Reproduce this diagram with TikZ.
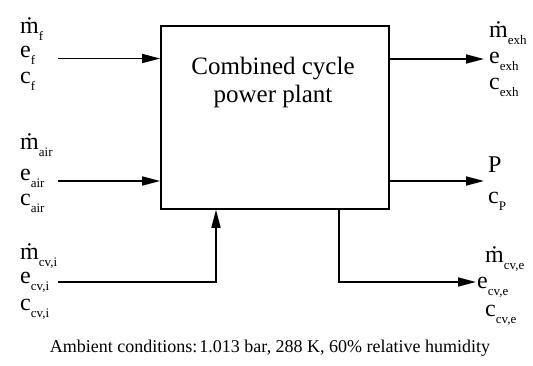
\documentclass[tikz,border=0pt]{standalone}
\usepackage{fontspec}
\setmainfont{Liberation Serif}
\newfontfamily\tmsfont{Liberation Serif}
\usetikzlibrary{arrows.meta}
\newcommand\lbl[2]{#1\raisebox{-0.3em}{\fontsize{13bp}{13bp}\selectfont #2}}
\tikzset{
  lab/.style={anchor=base west, inner sep=0pt, font=\tmsfont\fontsize{24bp}{24bp}\selectfont},
  conn/.style={line width=1.6bp},
  arr/.style={conn, -{Triangle[length=18bp,width=9bp]}},
}
\begin{document}
\begin{tikzpicture}[x=1bp,y=-1bp]
\useasboundingbox (0,0) rectangle (533,365);
% box
\node[draw, line width=1.6bp, minimum width=228bp, minimum height=183bp, inner sep=0pt] (box) at (275,117.5) {};
\node[align=center, font=\tmsfont\fontsize{25bp}{28bp}\selectfont, anchor=base] (title) at (273,102) {Combined cycle\\power plant};
% left labels
\node[lab] (mf) at (20,33) {\lbl{ṁ}{f}};
\node[lab] (ef) at (20,57) {\lbl{e}{f}};
\node[lab] (cf) at (20,83) {\lbl{c}{f}};
\node[lab] (mair) at (20,149) {\lbl{ṁ}{air}};
\node[lab] (eair) at (20,180) {\lbl{e}{air}};
\node[lab] (cair) at (20,205) {\lbl{c}{air}};
\node[lab] (mcvi) at (20,259) {\lbl{ṁ}{cv,i}};
\node[lab] (ecvi) at (20,283) {\lbl{e}{cv,i}};
\node[lab] (ccvi) at (20,310) {\lbl{c}{cv,i}};
% right labels
\node[lab] (mexh) at (489,37) {\lbl{ṁ}{exh}};
\node[lab] (eexh) at (489,63) {\lbl{e}{exh}};
\node[lab] (cexh) at (489,89) {\lbl{c}{exh}};
\node[lab] (P) at (488,172) {P};
\node[lab] (cP) at (488,203) {\lbl{c}{P}};
\node[lab] (mcve) at (485,262) {\lbl{ṁ}{cv,e}};
\node[lab] (ecve) at (477,288) {\lbl{e}{cv,e}};
\node[lab] (ccve) at (485,316) {\lbl{c}{cv,e}};
% connector ends
\coordinate (fin) at (58,58.5);
\coordinate (airin) at (58,181);
\coordinate (cviin) at (58,282);
\coordinate (cvicol) at (216,282);
\coordinate (exhout) at (484,59);
\coordinate (Pout) at (484,181);
\coordinate (cvecol) at (339,282);
\coordinate (cveout) at (476,282);
\draw[arr] (fin) -- (fin -| box.west);
\draw[arr] (airin) -- (airin -| box.west);
\draw[arr] (cviin) -- (cvicol) -- (cvicol |- box.south);
\draw[arr] (exhout -| box.east) -- (exhout);
\draw[arr] (Pout -| box.east) -- (Pout);
\draw[arr] (cvecol |- box.south) -- (cvecol) -- (cveout);
% ambient
\node[anchor=base, inner sep=0pt, font=\tmsfont\fontsize{18bp}{18bp}\selectfont] (amb) at (270,352) {Ambient conditions:\hspace{0.12em}1.013 bar, 288 K, 60\% relative humidity};
\end{tikzpicture}
\end{document}
